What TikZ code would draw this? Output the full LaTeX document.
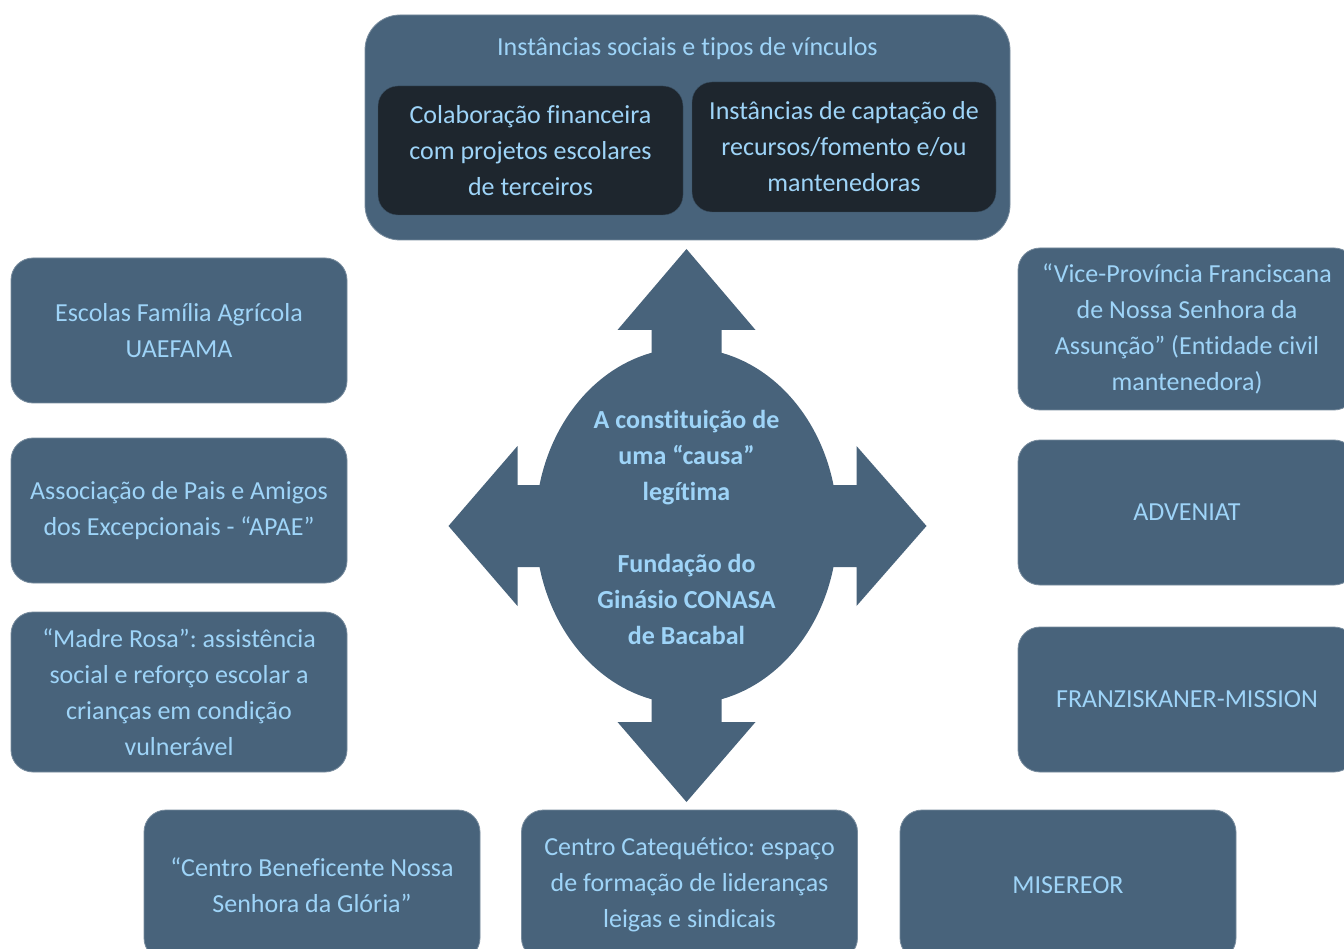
\documentclass[tikz,border=0pt]{standalone}
\usepackage{fontspec}
\usetikzlibrary{calc}
\setmainfont{Carlito}[Ligatures={NoCommon}]
\frenchspacing
\definecolor{boxblue}{RGB}{72,99,123}
\definecolor{boxedge}{RGB}{120,140,158}
\definecolor{darkbox}{RGB}{30,38,46}
\definecolor{txtblue}{RGB}{158,212,248}
\tikzset{
  orgbox/.style={draw=boxedge, line width=0.8pt, fill=boxblue, rounded corners=22pt,
    text=txtblue, align=center, font=\fontsize{26}{36}\selectfont,
    minimum width=336pt, inner sep=0pt},
  innerbox/.style={draw=boxblue!80!black, fill=darkbox, rounded corners=20pt,
    text=txtblue, align=center, font=\fontsize{26}{36}\selectfont,
    minimum width=304pt, minimum height=130pt, inner sep=0pt},
  hubshape/.style={fill=boxblue},
}
\begin{document}
\begin{tikzpicture}[x=1pt,y=-1pt]
\useasboundingbox (0,0) rectangle (1344,949);
\clip (0,0) rectangle (1344,949);
\fill[white] (0,0) rectangle (1344,949);

% top container
\node[orgbox, rounded corners=35pt, minimum width=645pt, minimum height=225pt] (top) at (687.5,127.5) {};
\node[text=txtblue, font=\fontsize{26}{36}\selectfont, inner sep=0pt] (toptitle) at (687.5,49) {Instâncias sociais e tipos de vínculos};
\node[innerbox, minimum width=305pt, minimum height=129pt] (colab) at (530.5,150.5) {Colaboração financeira\\com projetos escolares\\de terceiros};
\node[innerbox, minimum width=304pt, minimum height=130pt] (capt) at (844,147) {Instâncias de captação de\\recursos/fomento e/ou\\mantenedoras};

% central hub
\coordinate (c) at (686.5,526);
\fill[hubshape] (c) ellipse [x radius=151, y radius=178];
\fill[hubshape] ($(c)+(-35,0)$) -- ++(0,-196) -- ++(-34,0) -- ($(c)+(0,-277)$) -- ($(c)+(69,-196)$) -- ++(-34,0) -- ($(c)+(35,0)$) -- cycle;
\fill[hubshape] ($(c)+(-35,0)$) -- ++(0,196) -- ++(-34,0) -- ($(c)+(0,276)$) -- ($(c)+(69,196)$) -- ++(-34,0) -- ($(c)+(35,0)$) -- cycle;
\fill[hubshape] ($(c)+(0,-41)$) -- ++(-169,0) -- ++(0,-39) -- ($(c)+(-238,0)$) -- ($(c)+(-169,80)$) -- ++(0,-39) -- ($(c)+(0,41)$) -- cycle;
\fill[hubshape] ($(c)+(0,-41)$) -- ++(170,0) -- ++(0,-39) -- ($(c)+(240,0)$) -- ($(c)+(170,80)$) -- ++(0,-39) -- ($(c)+(0,41)$) -- cycle;
\node[text=txtblue, align=center, font=\bfseries\fontsize{26}{36}\selectfont, inner sep=0pt] (hub) at (686.5,527)
  {A constituição de\\uma “causa”\\legítima\\[36pt]Fundação do\\Ginásio CONASA\\de Bacabal};

% left column
\node[orgbox, minimum height=145pt] (efa) at (179,330.5) {Escolas Família Agrícola\\UAEFAMA};
\node[orgbox, minimum height=145pt] (apae) at (179,510.5) {Associação de Pais e Amigos\\dos Excepcionais - “APAE”};
\node[orgbox, minimum height=160pt] (madre) at (179,692) {“Madre Rosa”: assistência\\social e reforço escolar a\\crianças em condição\\vulnerável};

% right column
\node[orgbox, minimum width=338pt, minimum height=162pt] (vice) at (1187,329) {“Vice-Província Franciscana\\de Nossa Senhora da\\Assunção” (Entidade civil\\mantenedora)};
\node[orgbox, minimum width=338pt, minimum height=145pt] (adv) at (1187,512.5) {ADVENIAT};
\node[orgbox, minimum width=338pt, minimum height=145pt] (franz) at (1187,699.5) {FRANZISKANER-MISSION};

% bottom row
\node[orgbox, minimum height=150pt] (cbn) at (312,885) {“Centro Beneficente Nossa\\Senhora da Glória”};
\node[orgbox, minimum height=150pt] (cat) at (689.5,885) {Centro Catequético: espaço\\de formação de lideranças\\leigas e sindicais};
\node[orgbox, minimum height=150pt] (mis) at (1068,885) {MISEREOR};
\end{tikzpicture}
\end{document}
